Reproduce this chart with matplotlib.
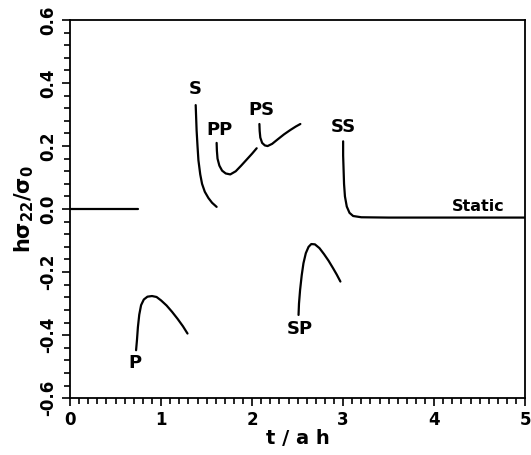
import matplotlib.pyplot as plt
from matplotlib.ticker import MultipleLocator

# stress history of each wave arrival, t/ah vs h*sigma22/sigma0
static_t = [0.0, 0.75]
static_s = [0.0, 0.0]

p_t = [0.725, 0.735, 0.745, 0.76, 0.78, 0.81, 0.85, 0.90, 0.95, 1.00, 1.06, 1.12, 1.18, 1.24, 1.29]
p_s = [-0.448, -0.415, -0.375, -0.335, -0.305, -0.287, -0.278, -0.276, -0.279, -0.29, -0.306, -0.326, -0.348, -0.372, -0.395]

s_t = [1.38, 1.385, 1.39, 1.40, 1.41, 1.43, 1.45, 1.48, 1.52, 1.56, 1.61]
s_s = [0.33, 0.29, 0.25, 0.20, 0.155, 0.11, 0.08, 0.055, 0.035, 0.02, 0.007]

pp_t = [1.61, 1.613, 1.62, 1.64, 1.67, 1.71, 1.76, 1.82, 1.88, 1.94, 2.00, 2.05]
pp_s = [0.21, 0.185, 0.16, 0.138, 0.122, 0.113, 0.11, 0.12, 0.138, 0.157, 0.176, 0.193]

ps_t = [2.08, 2.083, 2.09, 2.11, 2.14, 2.17, 2.22, 2.28, 2.35, 2.42, 2.48, 2.53]
ps_s = [0.27, 0.248, 0.227, 0.21, 0.202, 0.20, 0.207, 0.221, 0.237, 0.251, 0.262, 0.27]

sp_t = [2.51, 2.515, 2.527, 2.545, 2.564, 2.59, 2.62, 2.65, 2.69, 2.74, 2.79, 2.84, 2.89, 2.93, 2.97]
sp_s = [-0.336, -0.30, -0.257, -0.21, -0.172, -0.14, -0.12, -0.111, -0.112, -0.124, -0.143, -0.164, -0.188, -0.208, -0.23]

ss_t = [3.0, 3.0, 3.005, 3.01, 3.02, 3.04, 3.07, 3.11, 3.2, 3.5, 4.0, 4.5, 5.0]
ss_s = [0.215, 0.17, 0.125, 0.08, 0.04, 0.008, -0.012, -0.022, -0.026, -0.027, -0.027, -0.027, -0.027]

curves = [(static_t, static_s), (p_t, p_s), (s_t, s_s), (pp_t, pp_s),
          (ps_t, ps_s), (sp_t, sp_s), (ss_t, ss_s)]

wave_labels = ['S', 'PP', 'PS', 'SS', 'P', 'SP', 'Static']
label_t = [1.37, 1.64, 2.10, 3.0, 0.71, 2.52, 4.48]
label_s = [0.38, 0.25, 0.315, 0.26, -0.49, -0.38, -0.015]

fig = plt.figure(figsize=(5.31, 4.55), dpi=100)
ax = fig.add_axes([0.132, 0.125, 0.857, 0.831])

for t, s in curves:
    ax.plot(t, s, color='black', lw=1.6, solid_capstyle='round', solid_joinstyle='round')

for name, t, s in zip(wave_labels, label_t, label_s):
    if name == 'Static':
        ax.text(t, s, name, ha='center', va='bottom', fontsize=11.5, fontweight='bold')
    else:
        ax.text(t, s, name, ha='center', va='center', fontsize=13, fontweight='bold')

ax.set_xlim(0, 5)
ax.set_ylim(-0.6, 0.6)
ax.xaxis.set_major_locator(MultipleLocator(1))
ax.xaxis.set_minor_locator(MultipleLocator(0.1))
ax.yaxis.set_minor_locator(MultipleLocator(0.04))
ax.tick_params(which='both', direction='out', width=1.2, top=False, right=False,
               labelsize=12)
ax.tick_params(which='major', length=6)
ax.tick_params(which='minor', length=4)
for lbl in ax.get_xticklabels():
    lbl.set_fontweight('bold')
ax.set_yticks([-0.6, -0.4, -0.2, 0.0, 0.2, 0.4, 0.6])
ax.set_yticklabels(['-0.6', '-0.4', '-0.2', '0.0', '0.2', '0.4', '0.6'],
                   rotation=90, va='center', fontweight='bold')
for sp in ax.spines.values():
    sp.set_linewidth(1.3)

ax.set_xlabel('t / a h', fontsize=14, fontweight='bold', labelpad=0)
ax.set_ylabel(r'h$\mathbf{\sigma_{22}/\sigma_0}$', fontsize=15, fontweight='bold', labelpad=2)

fig.savefig('out.png', dpi=100)
